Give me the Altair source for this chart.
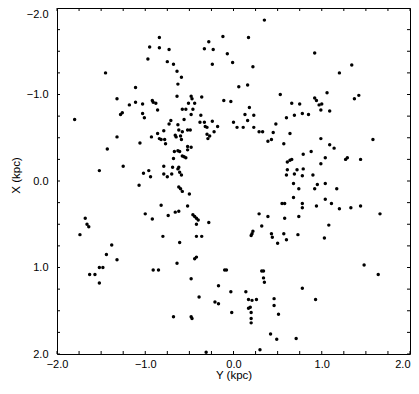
import altair as alt
import pandas as pd

# Horizontal coordinate: Y (kpc); vertical coordinate: X (kpc)
Y_KPC = [
    -0.84, -0.95, -0.84, -0.73, -0.97, -0.75, -0.68, -1.45, -1.11, -1.32, -1.11, -1.18, -1.03, -0.92, -0.91, -0.88,
    -0.86, -1.26, -1.28, -1.03, -1.01, -1.80, -0.71, -0.73, -1.32, -0.93, -0.79, -0.86, -0.84, -0.82, -0.78, -0.77,
    -1.06, -1.43, -0.67, -0.68, -1.25, -1.52, -0.79, -0.69, -0.96, -1.02, -0.94, -0.79, -0.75, -0.70,
    0.35, -0.12, 0.17, -0.28, -0.33, -0.23, -0.07, -0.24, -0.01, 0.22, -0.64, -0.59, -0.63, 0.06, 0.16, -0.64,
    -0.48, -0.47, -0.36, 0.53, -0.51, -0.44, -0.11, -0.03, 0.66, -0.58, -0.54, -0.46, 0.18, -0.48, -0.37, 0.13,
    0.23, -0.56, 0.16, 0.60, 0.69, -0.63, -0.38, -0.33, -0.24, 0.00, 0.48, -0.62, -0.58, -0.52, -0.49, -0.32,
    -0.30, -0.18, -0.22, 0.04, 0.11, 0.23, 0.29, 0.33, 0.45, 0.64, -0.66, -0.65, -0.60, -0.59, -0.30, -0.27,
    -0.29, 0.39, 0.43, 0.57, -0.63, -0.61, -0.52, -0.48, -0.52, -0.58, -0.56, -0.54, 0.61, 0.64, 0.66, -0.62,
    -0.63, -0.61, -0.59, 0.61, 0.60, 0.69,
    0.92, 1.34, 1.20, 1.06, 1.42, 1.37, 0.92, 0.94, 0.75, 0.97, 1.00, 0.99, 1.09, 0.78, 0.85, 0.99,
    1.58, 1.09, 1.14, 0.88, 0.79, 1.04, 1.29, 1.27, 1.44, 0.99, 0.72, 0.79, 0.78, 0.90,
    -1.07, -1.74, -1.68, -1.66, -1.64, -1.38, -1.44, -1.32, -1.52, -1.48, -1.63, -1.57, -1.52, -1.00, -0.92, -0.82,
    -0.74, -0.80, -0.91, -0.85, -0.68,
    -0.62, -0.60, -0.58, -0.50, -0.52, -0.66, -0.62, -0.46, -0.44, -0.42, -0.40, -0.42, -0.28, -0.42, -0.36, -0.61,
    -0.42, -0.44, -0.64, -0.48, -0.10, -0.08, -0.17, -0.39, -0.21, -0.17, -0.03, -0.02, -0.48, -0.47, -0.31, 0.14,
    0.17, 0.21, 0.26, 0.17, 0.19, 0.20, 0.20, 0.20, 0.30, 0.29, 0.39, 0.22, 0.21, 0.20, 0.32, 0.43,
    0.44, 0.50, 0.55, 0.58, 0.58, 0.57, 0.60, 0.32, 0.34, 0.34, 0.35, 0.46, 0.46, 0.51, 0.42, 0.49,
    0.68, 0.68,
    0.74, 0.95, 1.04, 0.92, 1.17, 1.04, 0.78, 0.78, 0.94, 1.11, 1.20, 1.33, 1.44, 1.66, 0.74, 1.08,
    0.73, 1.03, 1.48, 1.64, 0.78, 0.93, 0.71,
]
X_KPC = [
    -1.66, -1.55, -1.54, -1.52, -1.41, -1.38, -1.35, -1.25, -1.08, -0.95, -0.91, -0.88, -0.89, -0.93, -0.91, -0.90,
    -0.82, -0.79, -0.77, -0.78, -0.73, -0.71, -0.70, -0.66, -0.51, -0.51, -0.58, -0.55, -0.49, -0.48, -0.48, -0.43,
    -0.44, -0.37, -0.34, -0.26, -0.17, -0.12, -0.17, -0.16, -0.12, -0.09, -0.05, -0.08, -0.05, -0.08,
    -1.86, -1.67, -1.66, -1.61, -1.53, -1.52, -1.47, -1.35, -1.37, -1.32, -1.27, -1.20, -1.12, -1.09, -1.11, -0.98,
    -0.98, -0.95, -0.97, -1.00, -0.90, -0.90, -0.93, -0.92, -0.90, -0.83, -0.83, -0.83, -0.85, -0.77, -0.76, -0.77,
    -0.76, -0.71, -0.70, -0.73, -0.76, -0.65, -0.68, -0.68, -0.69, -0.68, -0.66, -0.59, -0.57, -0.59, -0.59, -0.63,
    -0.62, -0.63, -0.57, -0.62, -0.62, -0.62, -0.57, -0.57, -0.56, -0.55, -0.53, -0.51, -0.52, -0.48, -0.54, -0.52,
    -0.49, -0.46, -0.48, -0.43, -0.35, -0.34, -0.40, -0.39, -0.36, -0.29, -0.28, -0.27, -0.22, -0.24, -0.25, -0.16,
    -0.14, -0.10, -0.07, -0.13, -0.07, -0.08,
    -1.48, -1.34, -1.25, -1.02, -0.99, -0.95, -0.96, -0.93, -0.89, -0.88, -0.89, -0.82, -0.81, -0.78, -0.77, -0.49,
    -0.48, -0.42, -0.38, -0.34, -0.31, -0.27, -0.27, -0.25, -0.25, -0.20, -0.13, -0.14, -0.06, -0.07,
    0.05, 0.62, 0.43, 0.50, 0.53, 0.74, 0.85, 0.91, 1.00, 1.00, 1.08, 1.08, 1.18, 0.38, 0.44, 0.28,
    0.40, 0.64, 1.03, 1.03, 1.57,
    0.07, 0.09, 0.12, 0.15, 0.29, 0.36, 0.35, 0.39, 0.41, 0.43, 0.45, 0.50, 0.48, 0.64, 0.64, 0.71,
    0.88, 0.90, 0.95, 1.13, 1.03, 1.03, 1.21, 1.34, 1.40, 1.42, 1.28, 1.52, 1.57, 1.59, 1.98, 1.28,
    1.37, 1.38, 1.37, 1.47, 1.46, 1.52, 1.59, 1.64, 1.95, 0.38, 0.41, 0.58, 0.61, 0.63, 0.52, 0.61,
    0.65, 0.72, 0.26, 0.26, 0.43, 0.61, 0.68, 1.04, 1.04, 1.12, 1.17, 1.36, 1.44, 1.54, 1.77, 1.83,
    0.03, 0.19,
    0.09, 0.04, 0.03, 0.09, 0.09, 0.21, 0.26, 0.31, 0.29, 0.26, 0.32, 0.31, 0.29, 0.38, 0.41, 0.51,
    0.62, 0.66, 0.97, 1.08, 1.24, 1.37, 1.82,
]
TICKS = [-2.0, -1.75, -1.5, -1.25, -1.0, -0.75, -0.5, -0.25, 0.0, 0.25, 0.5, 0.75, 1.0, 1.25, 1.5, 1.75, 2.0]
LABELS = [-2.0, -1.0, 0.0, 1.0, 2.0]

W, H = 353, 346
FONT = "Liberation Sans"

pts = pd.DataFrame({"Y": Y_KPC, "X": X_KPC})
tk = pd.DataFrame({"t": TICKS})

xscale = alt.Scale(domain=[-2, 2], nice=False, zero=False, padding=0)
yscale = alt.Scale(domain=[-2, 2], nice=False, zero=False, reverse=True, padding=0)

common = dict(values=LABELS, format=".1f", grid=False, ticks=False, tickSize=0, domain=False,
              labelFont=FONT, labelFontSize=11, labelColor="black",
              titleFont=FONT, titleFontSize=11.5, titleFontWeight="normal", titleColor="black")
xaxis = alt.Axis(title="Y (kpc)", labelPadding=4, titlePadding=0, labelFlush=False,
                 labelAlign={"condition": {"test": "datum.value == 2", "value": "right"}, "value": "center"},
                 **common)
yaxis = alt.Axis(title="X (kpc)", labelPadding=9, labelFlush=False,
                 labelBaseline={"condition": {"test": "datum.value == -2", "value": "top"}, "value": "middle"},
                 titleX=-38, titleY=167, titleAngle=-90, titleBaseline="alphabetic", **common)

points = alt.Chart(pts).mark_circle(size=12, color="black", opacity=1).encode(
    x=alt.X("Y:Q", scale=xscale, axis=xaxis),
    y=alt.Y("X:Q", scale=yscale, axis=yaxis),
)
bottom = alt.Chart(tk).mark_rule(color="black", strokeWidth=1).encode(
    x=alt.X("t:Q", scale=xscale, axis=xaxis), y=alt.value(H), y2=alt.value(H - 3))
top = alt.Chart(tk).mark_rule(color="black", strokeWidth=1).encode(
    x=alt.X("t:Q", scale=xscale, axis=xaxis), y=alt.value(0), y2=alt.value(3))
left = alt.Chart(tk).mark_rule(color="black", strokeWidth=1).encode(
    y=alt.Y("t:Q", scale=yscale, axis=yaxis), x=alt.value(0), x2=alt.value(3))
right = alt.Chart(tk).mark_rule(color="black", strokeWidth=1).encode(
    y=alt.Y("t:Q", scale=yscale, axis=yaxis), x=alt.value(W), x2=alt.value(W - 3))

chart = alt.layer(points, bottom, top, left, right).properties(
    width=W, height=H,
    autosize=alt.AutoSizeParams(type="none"),
    padding={"left": 49, "top": 0, "right": 1, "bottom": 30},
    background="white",
).configure_view(stroke="black", strokeWidth=1)

chart.save("out.html", embed_options={"renderer": "svg", "actions": False})
